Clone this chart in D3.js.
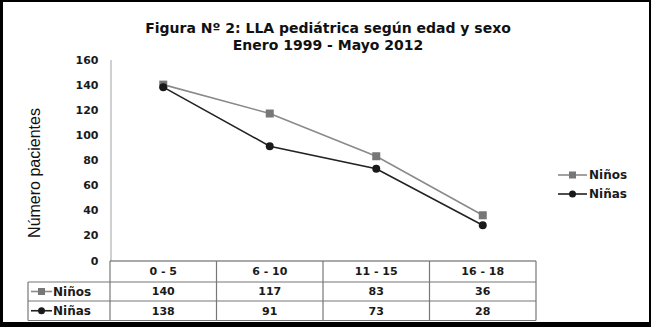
<!DOCTYPE html>
<html><head><meta charset="utf-8">
<script src="https://cdn.jsdelivr.net/npm/d3@7"></script>
<style>html,body{margin:0;padding:0;background:#000;}svg{display:block;}</style>
</head><body>
<script>
const categories = ["0 - 5", "6 - 10", "11 - 15", "16 - 18"];
const ninos = [140, 117, 83, 36];
const ninas = [138, 91, 73, 28];
const yTicks = [0, 20, 40, 60, 80, 100, 120, 140, 160];
const seriesNames = ["Niños", "Niñas"];
const titleLines = ["Figura Nº 2: LLA pediátrica según edad y sexo", "Enero 1999 - Mayo 2012"];
const yLabel = "Número pacientes";

const W = 651, H = 327;
const svg = d3.select("body").append("svg").attr("width", W).attr("height", H);
svg.append("rect").attr("x", 0).attr("y", 0).attr("width", W).attr("height", H).attr("fill", "#000");
svg.append("rect").attr("x", 3).attr("y", 2).attr("width", 646).attr("height", 320).attr("fill", "#fff");

const boldFont = "DejaVu Sans, Verdana, sans-serif";

// Title
svg.append("g").selectAll("text").data(titleLines).join("text")
  .attr("x", 328).attr("y", (d, i) => 33 + i * 17)
  .attr("text-anchor", "middle")
  .attr("font-family", boldFont).attr("font-weight", "bold").attr("font-size", 14)
  .attr("fill", "#111").text(d => d);

const x = d3.scaleBand().domain(categories).range([110, 536]);
const y = d3.scaleLinear().domain([0, 160]).range([260.5, 59.5]);
const cx = c => x(c) + x.bandwidth() / 2;

// Y axis
const yAxis = svg.append("g").attr("transform", "translate(110.5,0)")
  .call(d3.axisLeft(y).tickValues(yTicks).tickSize(0).tickPadding(12));
yAxis.select(".domain").attr("stroke", "#b0b0b0").attr("stroke-width", 1.2);
yAxis.selectAll("text").attr("font-family", boldFont).attr("font-weight", "bold")
  .attr("font-size", 11).attr("fill", "#1a1a1a");

// Y label
svg.append("text").attr("transform", "translate(40,173) rotate(-90)")
  .attr("text-anchor", "middle").attr("font-family", "Liberation Sans, Arial, sans-serif")
  .attr("font-size", 16).attr("fill", "#111").text(yLabel);

// Lines
const line = d3.line().x((d, i) => cx(categories[i])).y(d => y(d));
svg.append("path").datum(ninos).attr("d", line).attr("fill", "none")
  .attr("stroke", "#8a8a8a").attr("stroke-width", 1.6);
svg.append("path").datum(ninas).attr("d", line).attr("fill", "none")
  .attr("stroke", "#222").attr("stroke-width", 1.6);

svg.append("g").selectAll("rect").data(ninos).join("rect")
  .attr("x", (d, i) => cx(categories[i]) - 4).attr("y", d => y(d) - 4)
  .attr("width", 8).attr("height", 8).attr("fill", "#777");
svg.append("g").selectAll("circle").data(ninas).join("circle")
  .attr("cx", (d, i) => cx(categories[i])).attr("cy", d => y(d))
  .attr("r", 4).attr("fill", "#1a1a1a");

// marker helper
function marker(g, idx, x0, x1, yy) {
  g.append("line").attr("x1", x0).attr("x2", x1).attr("y1", yy).attr("y2", yy)
    .attr("stroke", idx === 0 ? "#8a8a8a" : "#222").attr("stroke-width", 1.6);
  const m = (x0 + x1) / 2;
  if (idx === 0) g.append("rect").attr("x", m - 3.5).attr("y", yy - 3.5).attr("width", 7).attr("height", 7).attr("fill", "#777");
  else g.append("circle").attr("cx", m).attr("cy", yy).attr("r", 3.5).attr("fill", "#1a1a1a");
}

// Legend
const leg = svg.append("g");
seriesNames.forEach((n, i) => {
  const yy = 175 + i * 19;
  marker(leg, i, 558, 587, yy);
  leg.append("text").attr("x", 589).attr("y", yy).attr("dy", "0.36em")
    .attr("font-family", boldFont).attr("font-weight", "bold").attr("font-size", 12)
    .attr("fill", "#1a1a1a").text(n);
});

// Data table
const rowsY = [261, 282, 301, 320.5];
const tbl = svg.append("g");
const stroke = "#777";
tbl.append("line").attr("x1", 110).attr("x2", 536).attr("y1", rowsY[0]).attr("y2", rowsY[0]).attr("stroke", "#555").attr("stroke-width", 1.2);
[1, 2, 3].forEach(k => tbl.append("line").attr("x1", 28).attr("x2", 536)
  .attr("y1", rowsY[k]).attr("y2", rowsY[k]).attr("stroke", stroke).attr("stroke-width", 1.2));
tbl.append("line").attr("x1", 28).attr("x2", 28).attr("y1", rowsY[1]).attr("y2", rowsY[3]).attr("stroke", stroke).attr("stroke-width", 1.2);
const colEdges = categories.map(c => x(c)).concat([536]);
colEdges.forEach(xx => tbl.append("line").attr("x1", xx).attr("x2", xx)
  .attr("y1", rowsY[0]).attr("y2", rowsY[3]).attr("stroke", stroke).attr("stroke-width", 1.2));

const cellText = (xx, yy, t, anchor) => tbl.append("text").attr("x", xx).attr("y", yy)
  .attr("dy", "0.36em").attr("text-anchor", anchor || "middle")
  .attr("font-family", boldFont).attr("font-weight", "bold").attr("font-size", 11)
  .attr("fill", "#1a1a1a").text(t);

categories.forEach(c => cellText(cx(c), (rowsY[0] + rowsY[1]) / 2, c));
[ninos, ninas].forEach((vals, r) => {
  const yy = (rowsY[r + 1] + rowsY[r + 2]) / 2;
  marker(tbl, r, 31, 52, yy);
  tbl.append("text").attr("x", 53).attr("y", yy).attr("dy", "0.36em")
    .attr("font-family", boldFont).attr("font-weight", "bold").attr("font-size", 12)
    .attr("fill", "#1a1a1a").text(seriesNames[r]);
  vals.forEach((v, i) => cellText(cx(categories[i]), yy, v));
});
</script>
</body></html>
